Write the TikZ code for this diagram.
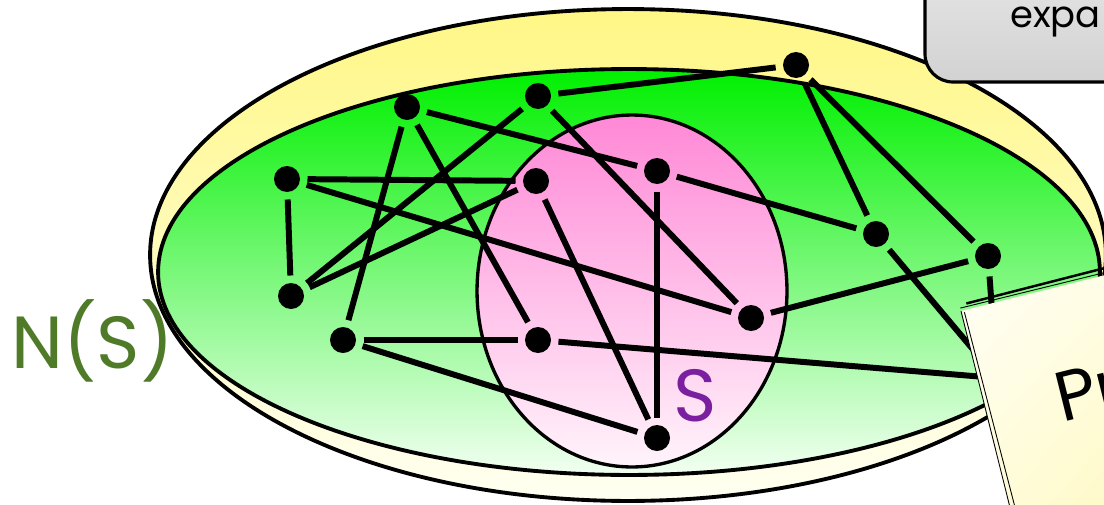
\documentclass[tikz,border=0pt]{standalone}
\usepackage{fontspec}
\setmainfont{Poppins}
\usetikzlibrary{shadings}
\usepackage{xcolor}
\definecolor{Outer}{HTML}{FFF785}
\definecolor{OuterLow}{HTML}{FFFFF2}
\definecolor{Hood}{HTML}{00F000}
\definecolor{HoodLow}{HTML}{F2FFF2}
\definecolor{SetTop}{HTML}{FF88D6}
\definecolor{SetLow}{HTML}{FFF4FB}
\definecolor{Olive}{HTML}{4F7B29}
\definecolor{Plum}{HTML}{7A1FA0}
\definecolor{BoxTop}{HTML}{E6E6E6}
\definecolor{BoxLow}{HTML}{D2D2D2}
\definecolor{NoteLight}{HTML}{FFFFFA}
\definecolor{NoteMid}{HTML}{FFFBD0}
\definecolor{NoteDeep}{HTML}{FFF49A}
\tikzset{
 vertex/.style={circle, fill=black, minimum size=0.52cm, inner sep=0pt, outer sep=0.15cm},
 link/.style={line width=3.4pt},
 rim/.style={draw=black, line width=2.2pt},
 biglabel/.style={font=\fontsize{42}{48}\selectfont, inner sep=0pt, anchor=base west},
 sketch/.style={draw=black, line width=0.5pt}
}

\begin{document}
\begin{tikzpicture}[x=0.02cm, y=-0.02cm]
\useasboundingbox (0,0) rectangle (1104,504);
\clip (0,0) rectangle (1104,504);
\draw[rim, top color=Outer, bottom color=OuterLow] (628,255) ellipse [x radius=9.56cm, y radius=4.92cm];
\draw[rim, top color=Hood, bottom color=HoodLow] (629,272) ellipse [x radius=9.42cm, y radius=4.06cm];
\draw[line width=1.9pt, top color=SetTop, bottom color=SetLow] (632,291) ellipse [x radius=3.1cm, y radius=3.52cm];

\node[vertex] (A) at (407,107) {};
\node[vertex] (B) at (538,96) {};
\node[vertex] (C) at (796,65) {};
\node[vertex] (D) at (287,179) {};
\node[vertex] (E) at (536,181) {};
\node[vertex] (F) at (657,171) {};
\node[vertex] (G) at (291,296) {};
\node[vertex] (H) at (343,340) {};
\node[vertex] (I) at (538,340) {};
\node[vertex] (J) at (751,318) {};
\node[vertex] (K) at (876,234) {};
\node[vertex] (L) at (988,256) {};
\node[vertex] (M) at (657,438) {};
\coordinate (X) at (997,378);

\foreach \u/\v in {D/E, D/G, D/J, A/H, A/I, A/F, B/G, E/G, B/C, B/J, F/M, F/K,
  C/K, C/L, J/L, E/M, H/I, H/M, K/X, L/X, I/X}
  \draw[link] (\u) -- (\v);

\node[biglabel, text=Olive] (hood) at (11,368) {N(S)};
\node[biglabel, text=Plum] (set) at (673,421) {S};

\draw[line width=1.8pt, rounded corners=0.56cm, top color=BoxTop, bottom color=BoxLow] (925,-40) rectangle (1180,82);
\node[anchor=base west, inner sep=0pt, font=\fontsize{21}{26}\selectfont] (hint) at (1010,27) {expa};

\begin{scope}[rotate around={14:(961,311)}]
\shade[upper left=NoteLight, upper right=NoteMid, lower left=NoteMid, lower right=NoteDeep] (961,311) rectangle (1281,631);
\draw[sketch, line width=1.4pt] (968,305) -- (1281,303);
\draw[sketch] (961,308) -- (1281,309);
\draw[sketch] (961,311) -- (961,631);
\draw[sketch] (964,313) -- (967,631);
\end{scope}
\node[anchor=base west, inner sep=0pt, rotate=14, font=\fontsize{40}{44}\selectfont] (note) at (1062,423) {Pr};
\end{tikzpicture}
\end{document}
